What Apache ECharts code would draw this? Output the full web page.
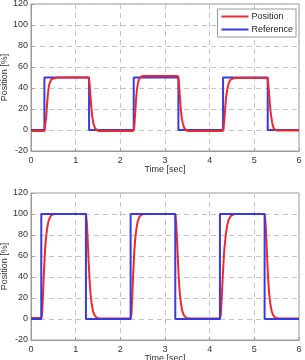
<!DOCTYPE html>
<html>
<head>
<meta charset="utf-8">
<script src="https://cdn.jsdelivr.net/npm/echarts@6/dist/echarts.min.js"></script>
<style>
  html, body { margin: 0; padding: 0; background: #fff; }
  #chart { width: 305px; height: 360px; }
</style>
</head>
<body>
<div id="chart"></div>
<script>
// time [sec], position [%] -- top plot (50% steps)
var refTop = [[0,0],[0.3,0],[0.3,50],[1.3,50],[1.3,0],[2.3,0],[2.3,50],[3.3,50],[3.3,0],[4.3,0],[4.3,50],[5.3,50],[5.3,0],[6,0]];
var posTop = [
  [0,-1],[0.3,-1],[0.32,0],[0.34,12],[0.36,25],[0.38,35],[0.40,42],[0.43,46],[0.46,48.5],[0.5,49.5],[0.6,50],
  [1.29,50],[1.31,45],[1.33,33],[1.35,22],[1.37,13],[1.40,6],[1.43,2],[1.47,0],[1.52,-1],
  [2.29,-1],[2.31,2],[2.33,14],[2.35,28],[2.37,38],[2.40,46],[2.44,50],[2.5,51.5],
  [3.29,51.5],[3.31,46],[3.33,34],[3.35,22],[3.37,13],[3.40,6],[3.43,2],[3.47,0],[3.52,-1],
  [4.29,-1],[4.31,1],[4.33,10],[4.35,22],[4.37,32],[4.40,40],[4.43,45],[4.47,48],[4.55,49.5],
  [5.29,49.5],[5.31,45],[5.33,35],[5.35,24],[5.37,15],[5.40,7],[5.43,2],[5.47,0],[5.52,-0.5],[6,-0.5]
];
// bottom plot (100% steps)
var refBot = [[0,0],[0.23,0],[0.23,100],[1.23,100],[1.23,0],[2.23,0],[2.23,100],[3.23,100],[3.23,0],[4.23,0],[4.23,100],[5.23,100],[5.23,0],[6,0]];
var posBot = [
  [0,1],[0.23,1],[0.25,5],[0.27,25],[0.29,45],[0.31,62],[0.33,75],[0.36,86],[0.39,93],[0.43,97.5],[0.48,99.5],[0.55,100],
  [1.23,100],[1.25,92],[1.27,75],[1.29,55],[1.31,38],[1.33,25],[1.36,14],[1.39,7],[1.43,3],[1.48,1],[1.55,0.5],
  [2.23,0.5],[2.25,5],[2.27,25],[2.29,45],[2.31,62],[2.33,75],[2.36,86],[2.39,93],[2.43,97.5],[2.48,99.5],[2.55,100],
  [3.23,100],[3.25,92],[3.27,75],[3.29,55],[3.31,38],[3.33,25],[3.36,14],[3.39,7],[3.43,3],[3.48,1],[3.55,0.5],
  [4.23,0.5],[4.25,4],[4.27,20],[4.29,38],[4.31,54],[4.33,67],[4.36,80],[4.39,89],[4.43,95],[4.48,98.5],[4.55,100],
  [5.23,100],[5.25,92],[5.27,75],[5.29,55],[5.31,38],[5.33,25],[5.36,14],[5.39,7],[5.43,3],[5.48,1],[5.55,0.5],[6,0.5]
];
var xTicks = {min: 0, max: 6, interval: 1};
var yTicks = {min: -20, max: 120, interval: 20};

var red = '#ec2a2e';
var blue = '#3a3ae0';
var font = 'Liberation Sans';
var frame = '#9a9a9a';

function xAxis(idx) {
  return {
    type: 'value', gridIndex: idx, min: xTicks.min, max: xTicks.max, interval: xTicks.interval,
    name: 'Time [sec]', nameLocation: 'middle', nameGap: 14, nameMoveOverlap: false,
    nameTextStyle: {fontFamily: font, fontSize: 9, color: '#333'},
    axisLine: {onZero: false, lineStyle: {color: frame, width: 1}},
    axisTick: {inside: true, length: 3, lineStyle: {color: frame}},
    axisLabel: {fontFamily: font, fontSize: 9, color: '#333', margin: 5},
    splitLine: {show: true, lineStyle: {color: '#c4c4c4', type: [5, 4], width: 1}}
  };
}
function yAxis(idx) {
  return {
    type: 'value', gridIndex: idx, min: yTicks.min, max: yTicks.max, interval: yTicks.interval,
    name: 'Position [%]', nameLocation: 'middle', nameGap: 22, nameMoveOverlap: false,
    nameTextStyle: {fontFamily: font, fontSize: 9, color: '#333'},
    axisLine: {show: true, onZero: false, lineStyle: {color: frame, width: 1}},
    axisTick: {show: true, inside: true, length: 3, lineStyle: {color: frame}},
    axisLabel: {fontFamily: font, fontSize: 9, color: '#333', margin: 3},
    splitLine: {show: true, lineStyle: {color: '#c4c4c4', type: [5, 4], width: 1}}
  };
}
function line(name, data, color, idx, z) {
  return {
    name: name, type: 'line', data: data, xAxisIndex: idx, yAxisIndex: idx,
    symbol: 'none', smooth: false, z: z,
    lineStyle: {color: color, width: 2}, itemStyle: {color: color}
  };
}

var chart = echarts.init(document.getElementById('chart'), null, {renderer: 'canvas'});
chart.setOption({
  animation: false,
  backgroundColor: '#fff',
  grid: [
    {left: 31, top: 4, width: 268, height: 147, show: true, borderColor: frame, borderWidth: 1, outerBoundsMode: 'none', containLabel: false},
    {left: 31, top: 193, width: 268, height: 147, show: true, borderColor: frame, borderWidth: 1, outerBoundsMode: 'none', containLabel: false}
  ],
  xAxis: [xAxis(0), xAxis(1)],
  yAxis: [yAxis(0), yAxis(1)],
  legend: {
    data: ['Position', 'Reference'], orient: 'vertical', right: 9, top: 9,
    icon: 'rect', itemWidth: 27, itemHeight: 2, itemGap: 4,
    backgroundColor: '#fff', borderColor: '#999', borderWidth: 1,
    padding: [3, 3, 3, 4],
    textStyle: {fontFamily: font, fontSize: 9, color: '#222', padding: [0, 0, 0, -2]}
  },
  series: [
    line('Reference', refTop, blue, 0, 2),
    line('Position', posTop, red, 0, 3),
    line('Reference', refBot, blue, 1, 3),
    line('Position', posBot, red, 1, 2)
  ]
});
</script>
</body>
</html>
